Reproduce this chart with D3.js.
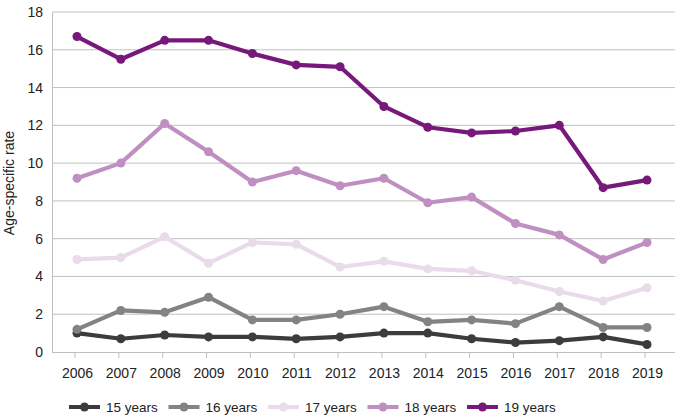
<!DOCTYPE html>
<html><head><meta charset="utf-8">
<script src="https://cdn.jsdelivr.net/npm/d3@7"></script>
<style>body{margin:0;background:#fff;} text{font-family:"Liberation Sans",Arial,sans-serif;}</style>
</head><body>
<svg id="c" width="675" height="420"></svg>
<script>
const years = ["2006","2007","2008","2009","2010","2011","2012","2013","2014","2015","2016","2017","2018","2019"];
const yTicks = [0,2,4,6,8,10,12,14,16,18];
const seriesNames = ["15 years","16 years","17 years","18 years","19 years"];
const s15 = [1.0,0.7,0.9,0.8,0.8,0.7,0.8,1.0,1.0,0.7,0.5,0.6,0.8,0.4];
const s16 = [1.2,2.2,2.1,2.9,1.7,1.7,2.0,2.4,1.6,1.7,1.5,2.4,1.3,1.3];
const s17 = [4.9,5.0,6.1,4.7,5.8,5.7,4.5,4.8,4.4,4.3,3.8,3.2,2.7,3.4];
const s18 = [9.2,10.0,12.1,10.6,9.0,9.6,8.8,9.2,7.9,8.2,6.8,6.2,4.9,5.8];
const s19 = [16.7,15.5,16.5,16.5,15.8,15.2,15.1,13.0,11.9,11.6,11.7,12.0,8.7,9.1];
const colors = ["#3c3c3c","#838383","#eadbea","#c08fc2","#77197b"];
const allSeries = [s15,s16,s17,s18,s19];

const svg = d3.select("#c");
const x = d3.scalePoint().domain(years).range([77,647]);
const y = d3.scaleLinear().domain([0,18]).range([352,12]);

// grid
svg.append("g").selectAll("line").data(yTicks.filter(d=>d>0)).join("line")
  .attr("x1",52).attr("x2",675).attr("y1",d=>y(d)).attr("y2",d=>y(d))
  .attr("stroke","#c0c0c0").attr("stroke-width",1);

// y axis
const ya = svg.append("g").attr("transform","translate(52,0)")
  .call(d3.axisLeft(y).tickValues(yTicks).tickSize(0).tickPadding(9));
ya.select(".domain").attr("stroke","#bfbfbf");
ya.selectAll("text").attr("font-size",14).attr("fill","#222").attr("font-family","Liberation Sans, Arial, sans-serif");

// x axis
const xa = svg.append("g").attr("transform","translate(0,352)")
  .call(d3.axisBottom(x).tickSize(0).tickPadding(16));
xa.select(".domain").attr("d","M52,0.5H675").attr("stroke","#bfbfbf");
xa.selectAll("text").attr("font-size",14).attr("fill","#222").attr("font-family","Liberation Sans, Arial, sans-serif");
svg.append("g").selectAll("line").data(years).join("line")
  .attr("x1",d=>x(d)-2).attr("x2",d=>x(d)-2).attr("y1",352).attr("y2",358)
  .attr("stroke","#bfbfbf");

// y title
svg.append("text").attr("transform","translate(14,183) rotate(-90)")
  .attr("text-anchor","middle").attr("font-size",14).attr("fill","#222").text("Age-specific rate");

const line = d3.line().x((d,i)=>x(years[i])).y(d=>y(d));
allSeries.forEach((s,k)=>{
  const g = svg.append("g");
  g.append("path").datum(s).attr("d",line).attr("fill","none")
    .attr("stroke",colors[k]).attr("stroke-width",4.2).attr("stroke-linejoin","round");
  g.selectAll("circle").data(s).join("circle")
    .attr("cx",(d,i)=>x(years[i])).attr("cy",d=>y(d)).attr("r",4.5).attr("fill",colors[k]);
});

// legend
const lg = svg.append("g").attr("transform","translate(69,407)");
seriesNames.forEach((n,k)=>{
  const gi = lg.append("g").attr("transform",`translate(${k*99.5},0)`);
  gi.append("line").attr("x1",0).attr("x2",31).attr("y1",0).attr("y2",0)
    .attr("stroke",colors[k]).attr("stroke-width",4);
  gi.append("circle").attr("cx",15.5).attr("cy",0).attr("r",4.5).attr("fill",colors[k]);
  gi.append("text").attr("x",37).attr("y",5).attr("font-size",13.5).attr("fill","#222").text(n);
});
</script>
</body></html>
